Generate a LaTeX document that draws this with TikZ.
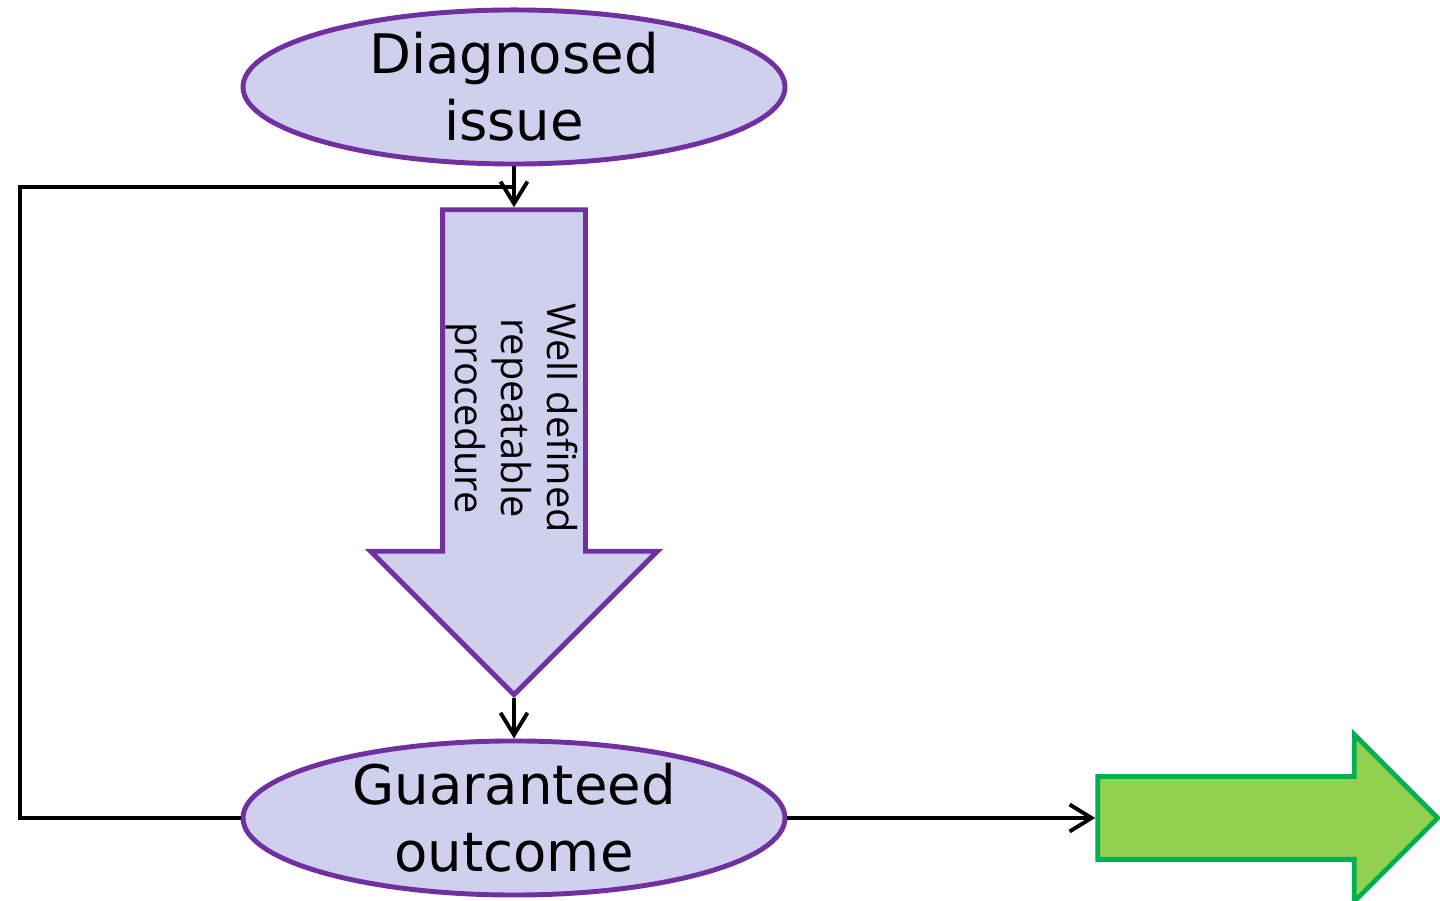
\documentclass[tikz,border=0pt]{standalone}
\usepackage{fontspec}
\setmainfont{DejaVu Sans}
\newfontfamily\procfont{Open Sans}
\usetikzlibrary{shapes.geometric, shapes.arrows, arrows.meta, calc}
\definecolor{lav}{HTML}{CFCFEE}
\definecolor{purp}{HTML}{7030A0}
\definecolor{gfill}{HTML}{92D050}
\definecolor{gline}{HTML}{00B050}
\tikzset{>={Straight Barb[length=2.2mm, width=2.7mm, line width=1.1pt]}}
\tikzset{oval/.style={ellipse, draw=purp, fill=lav, line width=1.4pt, minimum width=5.42cm, minimum height=1.5cm, inner sep=0pt, align=center, font=\fontsize{15.5}{19}\selectfont}}

\begin{document}
\begin{tikzpicture}[line width=1.1pt]
\useasboundingbox (0,0) rectangle (14.4,9.01);
\node[oval] (issue) at (5.14,8.14) {Diagnosed\\issue};
\node[single arrow, draw=purp, fill=lav, line width=1.4pt, rotate=-90, inner xsep=0pt, inner ysep=0.69cm, minimum height=4.85cm, single arrow head extend=0.72cm, single arrow head indent=0pt] (proc) at (5.14,4.845) {};
\node[rotate=-90, align=center, font=\procfont\fontsize{11.3}{13}\selectfont] (proctext) at (5.12,4.83) {Well defined\\repeatable\\procedure};
\node[oval] (outcome) at (5.14,0.83) {Guaranteed\\outcome};
\node[single arrow, draw=gline, fill=gfill, line width=1.4pt, inner xsep=0pt, inner ysep=0.39cm, minimum height=3.4cm, single arrow head extend=0.42cm, single arrow head indent=0pt] (next) at (12.47,0.83) {};
\coordinate (join) at ($(issue.south)!0.5!(proc.tail)$);
\draw[->] (issue.south) -- (proc.tail);
\draw[->] (proc.tip) -- (outcome.north);
\draw (outcome.west) -- (0.2,0.83) |- (join);
\draw[->] (outcome.east) -- (next.tail);
\end{tikzpicture}
\end{document}
